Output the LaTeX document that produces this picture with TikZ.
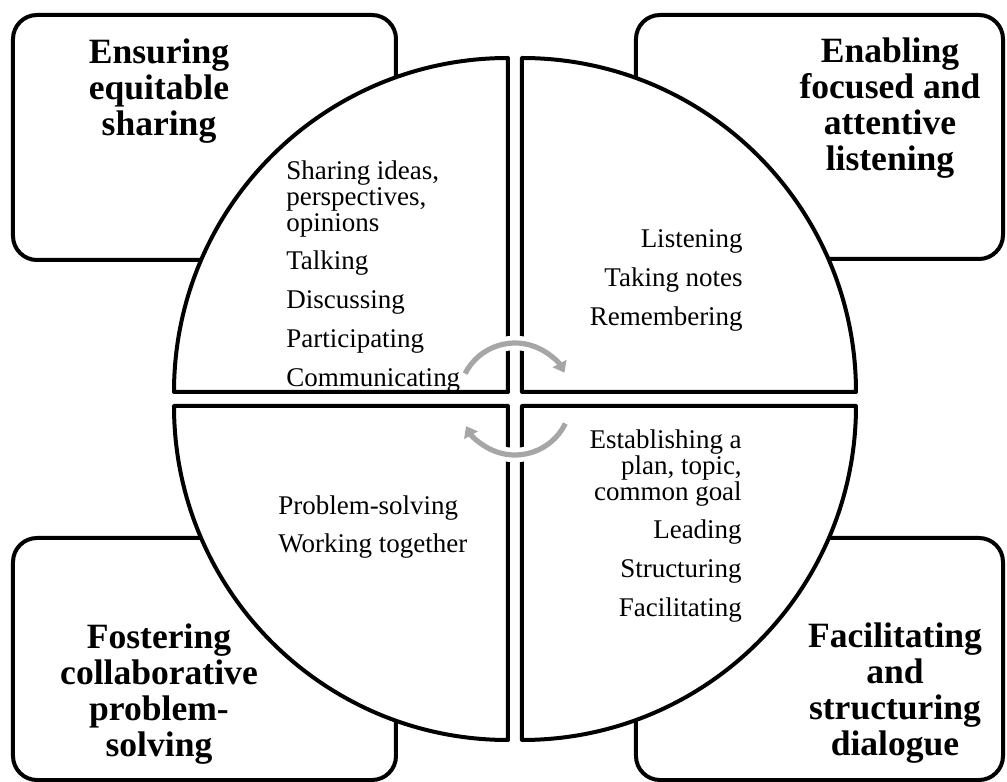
\documentclass[tikz,border=0pt]{standalone}
\usepackage{fontspec}
\setmainfont{Liberation Serif}
\usetikzlibrary{arrows.meta}
\definecolor{arrowgrey}{HTML}{A6A6A6}

\begin{document}
\begin{tikzpicture}[x=0.25mm, y=0.25mm,
    box/.style={draw, line width=1mm, rounded corners=6mm},
    quarter/.style={draw, fill=white, line width=1mm, line join=round},
    turn/.style={draw=arrowgrey, line width=1.3mm, -{Triangle[length=2.6mm,width=3.8mm]},
        preaction={draw=white, line width=3.6mm, arrows=-}},
    head/.style={font=\bfseries\fontsize{25.3}{25.6}\selectfont, align=center, inner sep=0pt, anchor=north},
    items/.style={font=\fontsize{19.2}{18.5}\selectfont, inner sep=0pt}]
    \useasboundingbox (-515,-383) rectangle (492,399);

    % corner boxes
    \draw[box] (-502,384) rectangle (-119,139);
    \draw[box] (121,384) rectangle (488,140);
    \draw[box] (-502,-139) rectangle (-119,-381);
    \draw[box] (121,-139) rectangle (488,-381);

    % the four quarters of the circle
    \draw[quarter] (-7,7) -- (-7,341) arc[start angle=90, end angle=180, radius=334] -- cycle;
    \draw[quarter] (7,7) -- (341,7) arc[start angle=0, end angle=90, radius=334] -- cycle;
    \draw[quarter] (-7,-7) -- (-341,-7) arc[start angle=180, end angle=270, radius=334] -- cycle;
    \draw[quarter] (7,-7) -- (7,-341) arc[start angle=270, end angle=360, radius=334] -- cycle;

    % turning arrows in the middle
    \draw[turn] (153:56) arc[start angle=153, end angle=28, radius=56];
    \draw[turn] (-26:56) arc[start angle=-26, end angle=-151, radius=56];

    % headings
    \node[head] (share) at (-356,360) {Ensuring\\equitable\\sharing};
    \node[head] (listen) at (375,361) {Enabling\\focused and\\attentive\\listening};
    \node[head] (solve) at (-356,-225) {Fostering\\collaborative\\problem-\\solving};
    \node[head] (dialogue) at (380,-224) {Facilitating\\and\\structuring\\dialogue};

    % activities
    \node[items, anchor=north west, align=left] (talk) at (-229,239)
        {Sharing ideas,\\perspectives,\\opinions\\[9.2pt]Talking\\[9.2pt]Discussing\\[9.2pt]Participating\\[9.2pt]Communicating};
    \node[items, anchor=north east, align=right] (notes) at (228,170)
        {Listening\\[9.2pt]Taking notes\\[9.2pt]Remembering};
    \node[items, anchor=north west, align=left] (work) at (-237,-96)
        {Problem-solving\\[9.2pt]Working together};
    \node[items, anchor=north east, align=right] (lead) at (227,-30)
        {Establishing a\\plan, topic,\\common goal\\[9.2pt]Leading\\[9.2pt]Structuring\\[9.2pt]Facilitating};
\end{tikzpicture}
\end{document}
